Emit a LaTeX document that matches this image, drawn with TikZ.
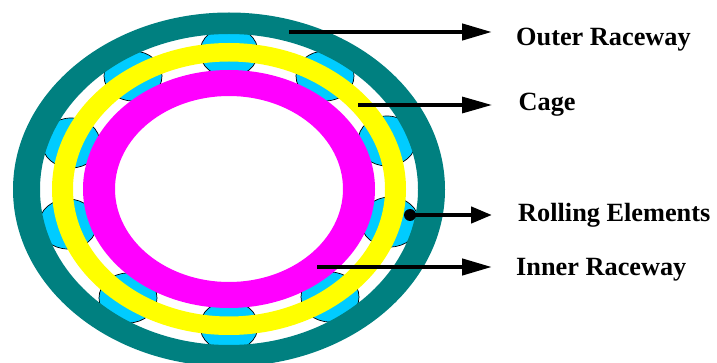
\documentclass[tikz,border=0pt]{standalone}
\usepackage{fontspec}
\setmainfont{Liberation Serif}
\usetikzlibrary{arrows.meta}
\definecolor{tealring}{RGB}{0,128,128}
\definecolor{rollercyan}{RGB}{0,204,255}
\definecolor{cageyellow}{RGB}{255,255,0}
\definecolor{innermagenta}{RGB}{255,0,255}
\tikzset{
  x=1pt,y=-1pt,
  roller/.style={fill=rollercyan,draw=black,line width=0.7pt},
  ring/.style={even odd rule,draw=none},
  pointer/.style={draw=black,line width=4.4pt,-{Triangle[length=30pt,width=16pt]}},
  cagepointer/.style={draw=black,line width=3.3pt,-{Triangle[length=30pt,width=16pt]}},
  shortpointer/.style={draw=black,line width=4.4pt,-{Triangle[length=21pt,width=16pt]}},
  label/.style={anchor=base west,inner sep=0pt,font=\fontsize{26.3}{26.3}\selectfont\bfseries}
}
\begin{document}
\begin{tikzpicture}
\useasboundingbox (0,0) rectangle (717,363);
\begin{scope}
\clip (0,0) rectangle (717,363);
\foreach \cx/\cy in {229/52,133/76,71/143,68/224,128/298,229/326,330/297,390/222,387/141,325/76} {
  \fill[roller] (\cx,\cy) ellipse[x radius=29,y radius=25];
}
\fill[tealring,ring] (229,189.5) ellipse[x radius=216,y radius=177] (229,189.5) ellipse[x radius=189,y radius=155.5];
\fill[cageyellow,ring] (229,189) ellipse[x radius=177,y radius=146] (229,189) ellipse[x radius=156,y radius=127.5];
\fill[innermagenta,ring] (229,189) ellipse[x radius=146,y radius=119] (229,189) ellipse[x radius=114,y radius=93];
\end{scope}
\coordinate (outerstart) at (289,32);
\coordinate (cagestart) at (358,105);
\coordinate (rollstart) at (410,215);
\coordinate (innerstart) at (317,267);
\node[label] (outer) at (516,45.5) {Outer Raceway};
\node[label] (cage) at (518.5,111) {Cage};
\node[label] (roll) at (518,222) {Rolling Elements};
\node[label] (inner) at (516,276) {Inner Raceway};
\coordinate (outertip) at (492,32);
\coordinate (cagetip) at (492,105);
\coordinate (rolltip) at (492,215);
\coordinate (innertip) at (492,267);
\draw[pointer] (outerstart) -- (outertip);
\draw[cagepointer] (cagestart) -- (cagetip);
\fill[black] (rollstart) circle[radius=6];
\draw[shortpointer] (rollstart) -- (rolltip);
\draw[pointer] (innerstart) -- (innertip);
\end{tikzpicture}
\end{document}
